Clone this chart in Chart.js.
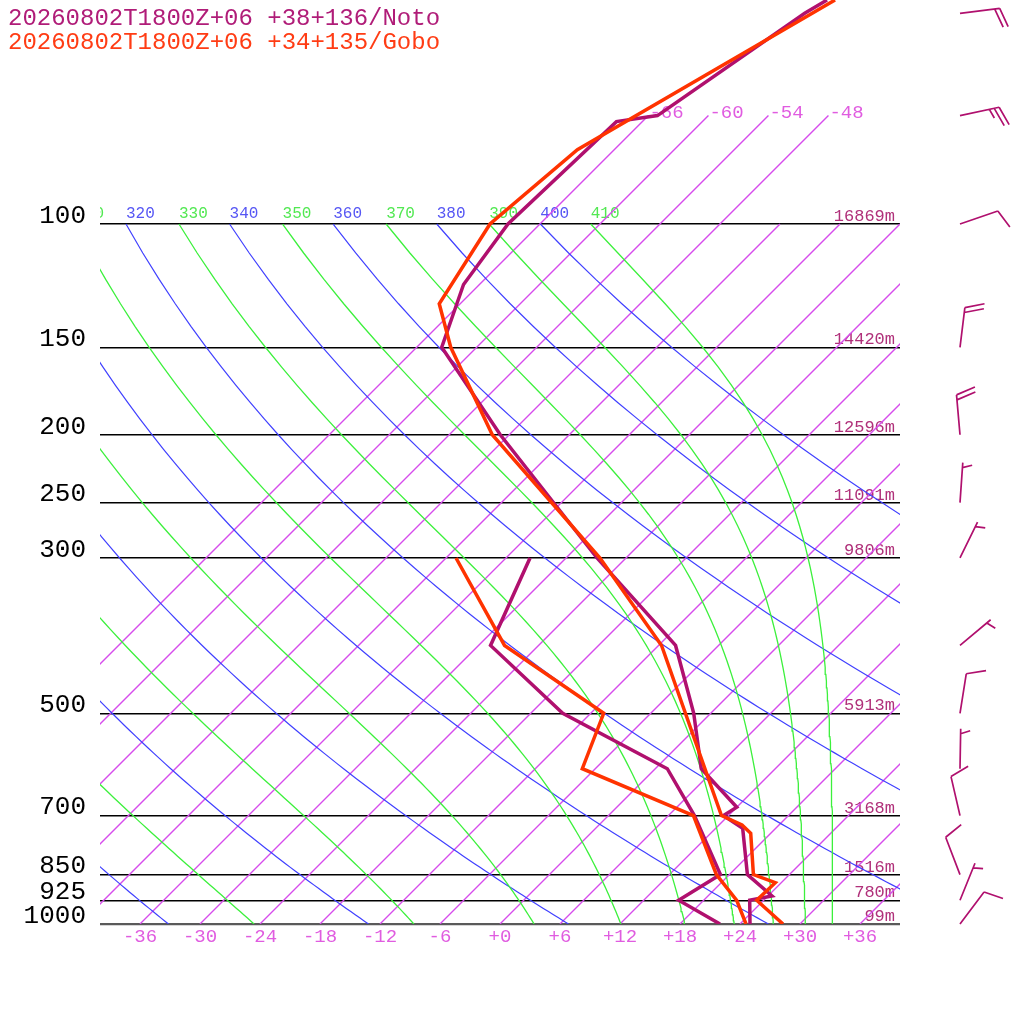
<!DOCTYPE html>
<html>
<head>
<meta charset="utf-8">
<title>Skew-T sounding</title>
<script src="https://cdn.jsdelivr.net/npm/chart.js@4.4.1/dist/chart.umd.min.js"></script>
<style>
html,body{margin:0;padding:0;background:#fff;overflow:hidden;}
#wrap{position:relative;width:1024px;height:1024px;}
#c{position:absolute;left:0;top:0;}
#title{position:absolute;left:8px;top:7px;font-family:"Liberation Mono",monospace;font-size:24px;line-height:24px;white-space:pre;}
</style>
</head>
<body>
<div id="wrap">
<canvas id="c" width="1024" height="1024"></canvas>
<div id="title"></div>
</div>
<script>
// ---------------- data ----------------
const titleLines = ['20260802T1800Z+06 +38+136/Noto', '20260802T1800Z+06 +34+135/Gobo'];

const isobars = [100, 150, 200, 250, 300, 500, 700, 850, 925, 1000];
const heightLabels = ['16869m', '14420m', '12596m', '11091m', '9806m', '5913m', '3168m', '1516m', '780m', '99m'];
const xTicks = [-36, -30, -24, -18, -12, -6, 0, 6, 12, 18, 24, 30, 36];
const isotherms = [-66, -60, -54, -48, -42, -36, -30, -24, -18, -12, -6, 0, 6, 12, 18, 24, 30, 36];
const isothermTopLabels = [-66, -60, -54, -48];
const isoTopP = 70;
const dryThetas = [240, 260, 280, 300, 320, 340, 360, 380, 400];
const moistThetaEs = [250, 270, 290, 310, 330, 350, 370, 390, 410];

// Noto sounding (purple)
const notoP  = [1000, 925, 912, 850, 730, 700, 681, 600, 500, 400, 300, 200, 150, 122, 100, 71.4, 70, 50, 47.86];
const notoT  = [25.0, 22.6, 24.4, 19.8, 14.7, 11.5, 12.0, 4.6, -1.7, -10.3, -26.9, -48.9, -63.5, -67.6, -69.2, -68.6, -65.1, -60.6, -59.7];
const notoTdP = [1000, 925, 850, 700, 600, 500, 400, 300];
const notoTd  = [22.0, 15.5, 17.1, 8.6, 1.2, -14.8, -28.8, -33.6];

// Gobo sounding (red)
const goboP  = [1000, 925, 873, 850, 742, 722, 700, 400, 300, 200, 150, 130, 100, 78.3, 47.86];
const goboT  = [28.3, 23.3, 23.4, 20.4, 16.0, 14.3, 11.3, -11.7, -26.6, -49.7, -62.6, -68.1, -71.0, -69.7, -58.9];
const goboTdP = [1000, 925, 850, 700, 600, 500, 400, 300];
const goboTd  = [24.6, 21.3, 16.7, 8.5, -7.3, -10.7, -27.4, -41.0];

// Noto winds (direction the wind blows from, deg; speed kt)
const windP   = [1000, 925, 850, 700, 600, 500, 400, 300, 250, 200, 150, 100, 70, 50];
const windDir = [37, 22, 339, 347, 1, 9, 50, 26, 4, 355, 7, 71, 78, 83];
const windSpd = [10, 5, 10, 10, 5, 10, 5, 5, 5, 20, 20, 10, 25, 20];

// ---------------- style ----------------
const FONT = '"Liberation Mono", monospace';
const PURPLE = '#b0106e';
const RED = '#ff3300';
const ISO_COLOR = 'rgb(214, 76, 236)';
const PINK = '#e05ce0';
const BLUE_COLOR = 'rgb(64, 64, 255)';
const GREEN_COLOR = 'rgb(60, 240, 60)';
const HGT = '#b0307a';
const P_TOP = 47.86;
const SKEW = 70; // skew in deg C per decade of pressure

// title
const tEl = document.getElementById('title');
[[titleLines[0], '#b01c78'], [titleLines[1], '#ff3c14']].forEach(([t, c]) => {
  const d = document.createElement('div'); d.textContent = t; d.style.color = c; tEl.appendChild(d);
});

// ---------------- thermodynamics helpers ----------------
function sx(T, p) { return T + SKEW * Math.log10(1000 / p); }
function pts(ps, ts) { return ps.map((p, i) => ({ x: sx(ts[i], p), y: p })); }
function dryT(theta, p) { return theta * Math.pow(p / 1000, 0.2857) - 273.15; }
function thetaE(Tc, p) {
  const es = 6.112 * Math.exp(17.67 * Tc / (Tc + 243.5));
  if (es >= p * 0.9) return Infinity;
  const r = 0.622 * es / (p - es);
  const TK = Tc + 273.15;
  return TK * Math.pow(1000 / p, 0.2854 * (1 - 0.28 * r)) * Math.exp((3.376 / TK - 0.00254) * r * 1000 * (1 + 0.81 * r));
}
function moistT(te, p) {
  let lo = -170, hi = 60;
  for (let i = 0; i < 60; i++) { const m = (lo + hi) / 2; if (thetaE(m, p) > te) hi = m; else lo = m; }
  return (lo + hi) / 2;
}
const curveP = [];
for (let p = 1000; p >= 100; p -= 10) curveP.push(p);

// ---------------- datasets ----------------
const datasets = [];
function addLine(data, color, width, order) {
  datasets.push({ data, type: 'line', showLine: true, borderColor: color, backgroundColor: color, borderWidth: width,
    pointRadius: 0, pointHoverRadius: 0, fill: false, tension: 0, order, clip: 0 });
}
addLine(pts(goboP, goboT), RED, 3.5, 0);
addLine(pts(goboTdP, goboTd), RED, 3.5, 1);
addLine(pts(notoP, notoT), PURPLE, 3.5, 2);
addLine(pts(notoTdP, notoTd), PURPLE, 3.5, 3);
moistThetaEs.forEach(te => addLine(curveP.map(p => ({ x: sx(moistT(te, p), p), y: p })), GREEN_COLOR, 1.3, 8));
dryThetas.forEach(th => addLine(curveP.map(p => ({ x: sx(dryT(th, p), p), y: p })), BLUE_COLOR, 1.2, 9));
isotherms.forEach(T => {
  const pt = isothermTopLabels.includes(T) ? isoTopP : 100;
  addLine([{ x: sx(T, 1000), y: 1000 }, { x: sx(T, pt), y: pt }], ISO_COLOR, 1.35, 10);
});

function fmtT(v) { return (v >= 0 ? '+' : '') + v; }

// ---------------- decorations plugin ----------------
function drawBarb(ctx, x0, y0, dir, spd) {
  const L = 40, gap = 5, full = 20, half = 10, rot = 72 * Math.PI / 180;
  const a = dir * Math.PI / 180;
  const ux = Math.sin(a), uy = -Math.cos(a);
  const tx = x0 + ux * L, ty = y0 + uy * L;
  const bx = ux * Math.cos(rot) - uy * Math.sin(rot);
  const by = ux * Math.sin(rot) + uy * Math.cos(rot);
  ctx.beginPath();
  ctx.moveTo(x0, y0); ctx.lineTo(tx, ty);
  const n10 = Math.floor(spd / 10);
  const n5 = Math.round((spd - n10 * 10) / 5);
  let pos = (n10 === 0 && n5 > 0) ? 1 : 0;
  for (let i = 0; i < n10; i++, pos++) {
    const sx0 = tx - ux * gap * pos, sy0 = ty - uy * gap * pos;
    ctx.moveTo(sx0, sy0); ctx.lineTo(sx0 + bx * full, sy0 + by * full);
  }
  if (n5 > 0) {
    const sx0 = tx - ux * gap * pos, sy0 = ty - uy * gap * pos;
    ctx.moveTo(sx0, sy0); ctx.lineTo(sx0 + bx * half, sy0 + by * half);
  }
  ctx.stroke();
}

const decor = {
  id: 'skewDecor',
  beforeDatasetsDraw(chart) {
    const ctx = chart.ctx, ca = chart.chartArea, xs = chart.scales.x, ys = chart.scales.y;
    ctx.save();
    ctx.beginPath(); ctx.rect(ca.left, ca.top, ca.right - ca.left, ca.bottom - ca.top); ctx.clip();
    ctx.textAlign = 'left'; ctx.textBaseline = 'alphabetic';
    const y100 = ys.getPixelForValue(100);
    ctx.font = '16px ' + FONT;
    ctx.fillStyle = '#5656f4';
    dryThetas.forEach(th => ctx.fillText(String(th), xs.getPixelForValue(sx(dryT(th, 100), 100)), y100 - 6));
    ctx.fillStyle = '#52e852';
    moistThetaEs.forEach(te => ctx.fillText(String(te), xs.getPixelForValue(sx(moistT(te, 100), 100)), y100 - 6));
    ctx.font = '19px ' + FONT;
    ctx.fillStyle = PINK;
    isothermTopLabels.forEach(T => {
      ctx.fillText(fmtT(T), xs.getPixelForValue(sx(T, isoTopP)) + 1, ys.getPixelForValue(isoTopP) + 2);
    });
    ctx.font = '17px ' + FONT;
    ctx.fillStyle = HGT;
    ctx.textAlign = 'right';
    isobars.forEach((p, i) => ctx.fillText(heightLabels[i], ca.right - 5, ys.getPixelForValue(p) - 3));
    ctx.restore();
  },
  afterDraw(chart) {
    const ctx = chart.ctx, ca = chart.chartArea, ys = chart.scales.y;
    ctx.save();
    ctx.strokeStyle = PURPLE; ctx.lineWidth = 1.7; ctx.lineCap = 'butt';
    windP.forEach((p, i) => drawBarb(ctx, ca.right + 60, ys.getPixelForValue(p), windDir[i], windSpd[i]));
    ctx.restore();
  }
};

// ---------------- chart ----------------
new Chart(document.getElementById('c'), {
  type: 'scatter',
  data: { datasets },
  plugins: [decor],
  options: {
    responsive: false,
    devicePixelRatio: 1,
    animation: false,
    events: [],
    layout: { padding: { left: 0, top: 0, right: 124, bottom: 0 } },
    plugins: { legend: { display: false }, tooltip: { enabled: false }, title: { display: false }, colors: { enabled: false } },
    scales: {
      x: {
        type: 'linear', position: 'bottom', min: -40, max: 40,
        grid: { display: false, drawTicks: false },
        border: { display: false },
        ticks: { autoSkip: false, maxRotation: 0, minRotation: 0, padding: 2, color: PINK,
                 font: { family: FONT, size: 19 }, callback: v => fmtT(v) },
        afterBuildTicks: s => { s.ticks = xTicks.map(v => ({ value: v })); },
        afterFit: s => { s.height = 100; s.paddingLeft = 0; s.paddingRight = 0; }
      },
      y: {
        type: 'logarithmic', position: 'left', reverse: true, min: P_TOP, max: 1000, bounds: 'data',
        grid: { drawTicks: false,
                color: c => (c.tick && c.tick.value === 1000) ? '#5a5a5a' : '#000',
                lineWidth: c => (c.tick && c.tick.value === 1000) ? 2.2 : 1.4 },
        border: { display: false },
        ticks: { autoSkip: false, padding: 14, labelOffset: -8, color: '#000',
                 font: { family: FONT, size: 26 }, callback: v => String(v) },
        afterBuildTicks: s => { s.ticks = isobars.map(v => ({ value: v })); },
        afterFit: s => { s.width = 100; s.paddingTop = 0; s.paddingBottom = 0; }
      }
    }
  }
});
</script>
</body>
</html>
